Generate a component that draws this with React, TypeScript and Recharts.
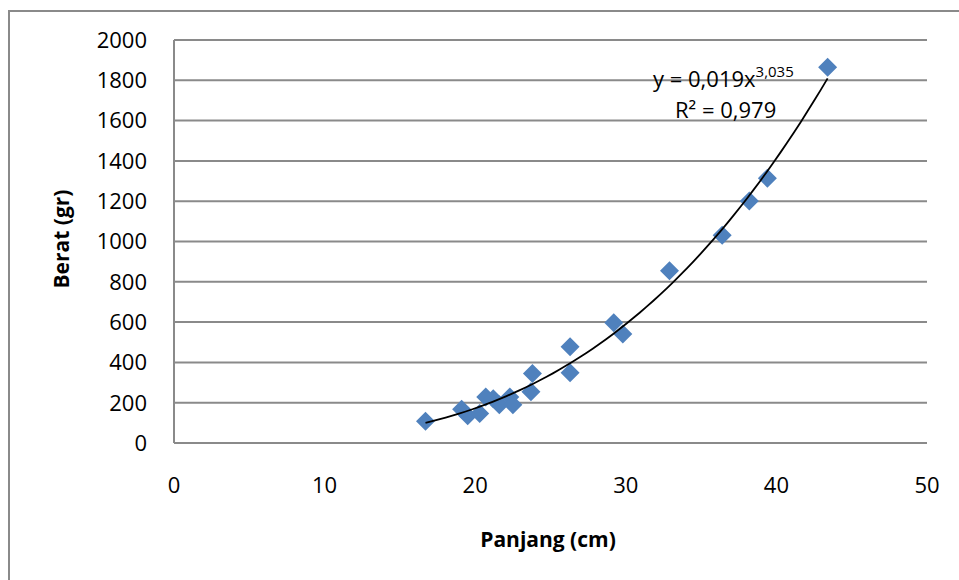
import React from "react";
import { ScatterChart, Scatter, XAxis, YAxis, CartesianGrid } from "recharts";

// measured fish: length (cm) vs weight (gr)
const panjang = [16.7, 19.1, 19.5, 20.3, 20.7, 21.2, 21.6, 22.3, 22.5, 23.7, 23.8, 26.3, 26.3, 29.2, 29.8, 32.9, 36.4, 38.2, 39.4, 43.4];
const berat = [108, 167, 135, 146, 228, 220, 190, 228, 190, 254, 345, 349, 478, 597, 541, 855, 1031, 1201, 1314, 1865];

const xTicks = [0, 10, 20, 30, 40, 50];
const yTicks = [0, 200, 400, 600, 800, 1000, 1200, 1400, 1600, 1800, 2000];

// power trendline shown on the chart: y = 0,019x^3,035 (label rounds the coefficient)
const trendA = 0.0194;
const trendB = 3.035;

const points = panjang.map((x, i) => ({ x, y: berat[i] }));
const xMin = Math.min(...panjang);
const xMax = Math.max(...panjang);
const trend = Array.from({ length: 61 }, (_, i) => {
  const x = xMin + ((xMax - xMin) * i) / 60;
  return { x, y: trendA * Math.pow(x, trendB) };
});

const FONT = "'Open Sans', sans-serif";
const GRAY = "#8a8a8a";

const Diamond = (props: any) => {
  const { cx, cy } = props;
  const r = 9.5;
  return (
    <polygon
      points={`${cx},${cy - r} ${cx + r},${cy} ${cx},${cy + r} ${cx - r},${cy}`}
      fill="#4F81BD"
    />
  );
};

const NoDot = () => <g />;

export default function App() {
  return (
    <div
      style={{
        position: "absolute",
        left: 0,
        top: 0,
        width: 959,
        height: 580,
        overflow: "hidden",
        background: "#fff",
        fontFamily: FONT,
      }}
    >
      <div
        style={{
          position: "absolute",
          left: 8,
          top: 10,
          width: 2000,
          height: 2000,
          borderTop: `2px solid ${GRAY}`,
          borderLeft: `2px solid ${GRAY}`,
        }}
      />
      <div style={{ position: "absolute", left: 0, top: 0 }}>
        <ScatterChart
          width={959}
          height={580}
          margin={{ top: 40, right: 32, bottom: 77, left: 100 }}
        >
          <CartesianGrid vertical={false} stroke={GRAY} strokeWidth={2} />
          <XAxis
            type="number"
            dataKey="x"
            domain={[0, 50]}
            ticks={xTicks}
            height={60}
            tickLine={false}
            tickSize={0}
            tickMargin={34}
            axisLine={{ stroke: GRAY, strokeWidth: 2 }}
            tick={{ fill: "#000", fontSize: 22, fontFamily: FONT }}
            interval={0}
          />
          <YAxis
            type="number"
            dataKey="y"
            domain={[0, 2000]}
            ticks={yTicks}
            width={74}
            tickLine={false}
            tickSize={0}
            tickMargin={27}
            axisLine={{ stroke: GRAY, strokeWidth: 2 }}
            tick={{ fill: "#000", fontSize: 22, fontFamily: FONT }}
            interval={0}
          />
          <Scatter data={points} shape={<Diamond />} isAnimationActive={false} />
          <Scatter
            data={trend}
            line={{ stroke: "#000", strokeWidth: 1.8 }}
            shape={<NoDot />}
            isAnimationActive={false}
          />
        </ScatterChart>
      </div>
      <svg
        width={959}
        height={580}
        style={{ position: "absolute", left: 0, top: 0, pointerEvents: "none" }}
      >
        <text x={653} y={87} fontSize={22} fontFamily={FONT} fill="#000">
          y = 0,019x
          <tspan fontSize={15} dy={-10}>3,035</tspan>
        </text>
        <text x={675} y={118} fontSize={22} fontFamily={FONT} fill="#000">
          R² = 0,979
        </text>
        <text
          x={548}
          y={547}
          textAnchor="middle"
          fontSize={21}
          fontWeight="bold"
          fontFamily={FONT}
          fill="#000"
        >
          Panjang (cm)
        </text>
        <text
          x={69}
          y={239}
          textAnchor="middle"
          fontSize={21}
          fontWeight="bold"
          fontFamily={FONT}
          fill="#000"
          transform="rotate(-90 69 239)"
        >
          Berat (gr)
        </text>
      </svg>
    </div>
  );
}
